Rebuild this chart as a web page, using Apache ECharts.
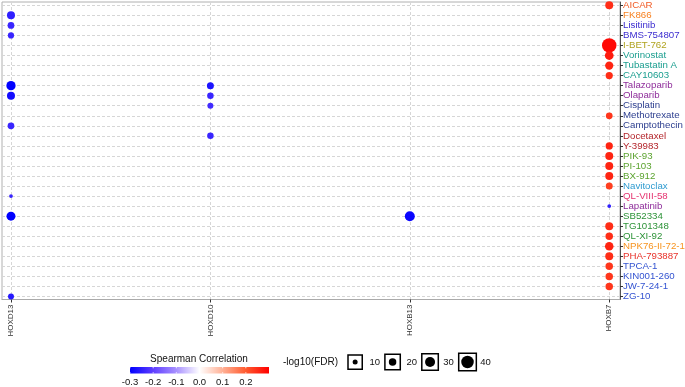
<!DOCTYPE html>
<html><head><meta charset="utf-8">
<script src="https://cdn.jsdelivr.net/npm/echarts@6/dist/echarts.min.js"></script>
<style>html,body{margin:0;padding:0;background:#fff}#c{width:685px;height:387px}</style>
</head><body><div id="c"></div>
<script>
const genes = ['HOXD13','HOXD10','HOXB13','HOXB7'];
const drugs = ['AICAR','FK866','Lisitinib','BMS-754807','I-BET-762','Vorinostat','Tubastatin A','CAY10603',
  'Talazoparib','Olaparib','Cisplatin','Methotrexate','Camptothecin','Docetaxel','Y-39983','PIK-93','PI-103',
  'BX-912','Navitoclax','QL-VIII-58','Lapatinib','SB52334','TG101348','QL-XI-92','NPK76-II-72-1','PHA-793887',
  'TPCA-1','KIN001-260','JW-7-24-1','ZG-10'];
const drugColors = ['#F15A24','#F7801F','#3C2DD0','#3C2DD0','#B0A31F','#1B9E8F','#1B9E8F','#1B9E8F',
  '#8E2C9A','#8E2C9A','#2C3E8F','#2C3E8F','#2C3E8F','#B3242A','#B3242A','#5BA32F','#5BA32F',
  '#5BA32F','#2E9BD0','#E5336F','#8E2C9A','#2E9339','#2E9339','#2E9339','#F7931E','#E8312A',
  '#3454D1','#3454D1','#3454D1','#3454D1'];
// [drug, Spearman correlation, -log10(FDR)]
const hoxd13 = [['FK866',-0.25,22],['Lisitinib',-0.24,17],['BMS-754807',-0.24,15],['Talazoparib',-0.30,27],
  ['Olaparib',-0.28,22],['Camptothecin',-0.24,17],['QL-VIII-58',-0.24,5],['SB52334',-0.30,26],['ZG-10',-0.26,14]];
const hoxd10 = [['Talazoparib',-0.27,18],['Olaparib',-0.24,16],['Cisplatin',-0.23,14],['Docetaxel',-0.24,16]];
const hoxb13 = [['SB52334',-0.29,30]];
const hoxb7 = [['AICAR',0.25,22],['I-BET-762',0.29,48],['Vorinostat',0.27,25],['Tubastatin A',0.26,23],
  ['CAY10603',0.25,19],['Methotrexate',0.24,17],['Y-39983',0.26,19],['PIK-93',0.26,22],['PI-103',0.26,22],
  ['BX-912',0.26,22],['Navitoclax',0.23,18],['Lapatinib',-0.25,5],['TG101348',0.25,22],['QL-XI-92',0.25,20],
  ['NPK76-II-72-1',0.26,24],['PHA-793887',0.25,22],['TPCA-1',0.24,20],['KIN001-260',0.24,20],['JW-7-24-1',0.24,20]];
const colorTicks = [-0.3,-0.2,-0.1,0.0,0.1,0.2];
const sizeBreaks = [10,20,30,40];

const ramp = ['#0000FF','#5F3EFF','#A891FF','#FFFFFF','#FFB095','#FF5A2E','#FF0000'];
const sizeOf = v => 2.5 + 0.25 * v;
const FONT = '"Liberation Sans", Arial, sans-serif';

const data = [];
[hoxd13, hoxd10, hoxb13, hoxb7].forEach((arr, gi) => {
  arr.forEach(r => data.push([gi, drugs.indexOf(r[0]), r[1], r[2]]));
});

const chart = echarts.init(document.getElementById('c'), null, {renderer:'canvas'});

// legend graphics
const g = [];
const cbX = 130, cbW = 139, cbY = 367, cbH = 6.5;
g.push({type:'text', x:199, y:359, style:{text:'Spearman Correlation', font:'10px '+FONT, fill:'#111', align:'center', verticalAlign:'middle'}});
g.push({type:'rect', shape:{x:cbX, y:cbY, width:cbW, height:cbH}, style:{fill:new echarts.graphic.LinearGradient(0,0,1,0, ramp.map((c,i)=>({offset:i/(ramp.length-1), color:c})))}});
colorTicks.forEach(t => {
  const x = cbX + (t + 0.3) / 0.6 * cbW;
  g.push({type:'line', shape:{x1:x,y1:cbY,x2:x,y2:cbY+1.3}, style:{stroke:'#fff', lineWidth:0.8}});
  g.push({type:'line', shape:{x1:x,y1:cbY+cbH-1.3,x2:x,y2:cbY+cbH}, style:{stroke:'#fff', lineWidth:0.8}});
  g.push({type:'text', x:x, y:382, style:{text:t.toFixed(1), font:'9.5px '+FONT, fill:'#111', align:'center', verticalAlign:'middle'}});
});
g.push({type:'text', x:283, y:362, style:{text:'-log10(FDR)', font:'10px '+FONT, fill:'#111', align:'left', verticalAlign:'middle'}});
sizeBreaks.forEach((v, i) => {
  const d = sizeOf(v);
  const w = 12 + 0.45 * d;
  const left = 348 + 36.9 * i;
  const cx = left + w / 2, cy = 362;
  g.push({type:'rect', shape:{x:cx - w/2, y:cy - w/2, width:w, height:w}, style:{fill:'#fff', stroke:'#000', lineWidth:1.5}});
  g.push({type:'circle', shape:{cx:cx, cy:cy, r:d/2}, style:{fill:'#000'}});
  g.push({type:'text', x:left + 21.5, y:cy, style:{text:String(v), font:'9.5px '+FONT, fill:'#111', align:'left', verticalAlign:'middle'}});
});

const dash = {show:true, lineStyle:{color:'#d6d6d6', width:1, type:[3,2]}};
chart.setOption({
  animation:false,
  grid:{left:2, top:2, width:618, height:297.5, outerBoundsMode:'none', containLabel:false, show:true, borderColor:'#b0b0b0', borderWidth:1, backgroundColor:'transparent'},
  xAxis:{type:'value', min:-0.045, max:3.054,
    axisLine:{show:true, onZero:false, lineStyle:{color:'#aaaaaa'}},
    axisTick:{show:true, customValues:genes.map((d,i)=>i), length:3, lineStyle:{color:'#333'}},
    axisLabel:{customValues:genes.map((d,i)=>i), formatter:v=>genes[Math.round(v)], rotate:90, fontSize:8, color:'#333', margin:5, fontFamily:FONT},
    splitLine:dash},
  yAxis:{type:'value', position:'right', inverse:true, min:-0.33, max:29.3,
    axisLine:{show:true, onZero:false, lineStyle:{color:'#555'}},
    axisTick:{show:true, customValues:drugs.map((d,i)=>i), length:3, lineStyle:{color:'#333'}},
    axisLabel:{customValues:drugs.map((d,i)=>i), formatter:v=>drugs[Math.round(v)], color:(v)=>drugColors[Math.round(+v)], fontSize:9.7, margin:3, fontFamily:FONT},
    splitLine:dash},
  visualMap:{type:'continuous', show:false, dimension:2, min:-0.3, max:0.3, seriesIndex:0, inRange:{color:ramp}},
  series:[{type:'scatter', data:data, encode:{x:0, y:1}, symbolSize:v=>sizeOf(v[3]), itemStyle:{opacity:1}}],
  graphic:g
});
</script></body></html>
